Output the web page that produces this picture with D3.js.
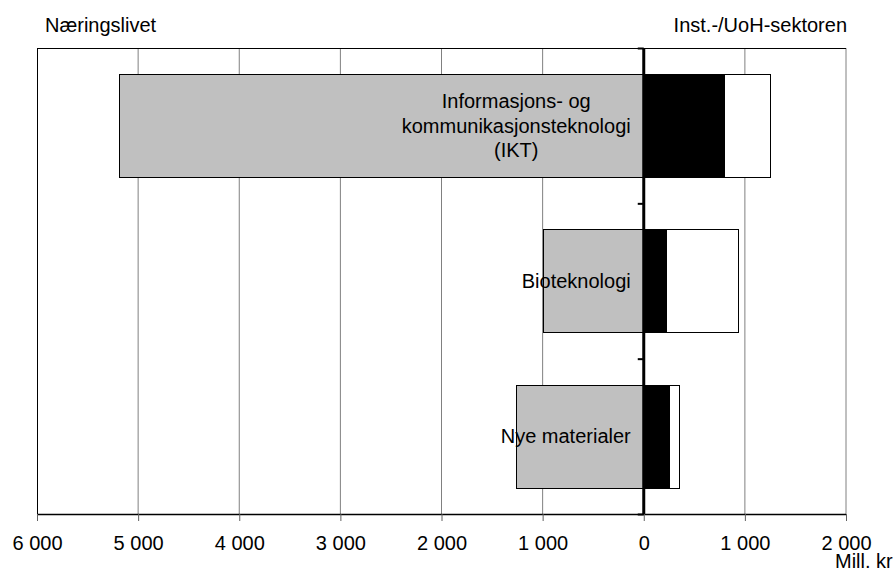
<!DOCTYPE html>
<html><head><meta charset="utf-8">
<script src="https://cdn.jsdelivr.net/npm/d3@7"></script>
<style>body{margin:0;background:#fff}svg{font-family:"Liberation Sans",Arial,sans-serif}</style>
</head><body><svg id="c" width="895" height="570"></svg>
<script>
const categories = ["Informasjons- og|kommunikasjonsteknologi|(IKT)", "Bioteknologi", "Nye materialer"];
const naeringslivet = [5190, 1000, 1260];
const instSektorBlack = [790, 221, 247];
const instSektorWhite = [460, 707, 105];
const xTicks = [-6000, -5000, -4000, -3000, -2000, -1000, 0, 1000, 2000];

const svg = d3.select("#c");
const L = 37, R = 846, T = 48, B = 514;
const x = d3.scaleLinear().domain([-6000, 2000]).range([L, R]);
const y = d3.scaleBand().domain(categories).range([T, B]).padding(0);
const barPad = 0.168;
const fmt = v => d3.format(",")(Math.abs(v)).replace(/,/g, " ");

// gridlines
svg.append("g").selectAll("line").data(xTicks.filter(d => d !== -6000 && d !== 0))
  .join("line").attr("x1", d => x(d)).attr("x2", d => x(d)).attr("y1", T).attr("y2", B)
  .attr("stroke", "#808080").attr("stroke-width", 1);
// frame top and left
svg.append("line").attr("x1", L).attr("x2", R).attr("y1", T + 0.5).attr("y2", T + 0.5).attr("stroke", "#000");
svg.append("line").attr("x1", L + 0.5).attr("x2", L + 0.5).attr("y1", T).attr("y2", B).attr("stroke", "#000");

// bars
const g = svg.append("g");
categories.forEach((c, i) => {
  const y0 = y(c) + y.step() * barPad, h = y.bandwidth() * (1 - 2 * barPad);
  const segs = [
    {a: -naeringslivet[i], b: 0, f: "#c0c0c0"},
    {a: 0, b: instSektorBlack[i], f: "#000"},
    {a: instSektorBlack[i], b: instSektorBlack[i] + instSektorWhite[i], f: "#fff"}
  ];
  segs.forEach(s => g.append("rect").attr("x", Math.round(x(s.a)) + 0.5).attr("y", Math.round(y0) + 0.5)
    .attr("width", Math.round(x(s.b)) - Math.round(x(s.a))).attr("height", Math.round(h))
    .attr("fill", s.f).attr("stroke", "#000").attr("stroke-width", 1));
});

// bottom axis
const ax = svg.append("g").attr("transform", `translate(0,${B})`)
  .call(d3.axisBottom(x).tickValues(xTicks).tickSize(7).tickPadding(15).tickFormat(fmt));
ax.select(".domain").attr("stroke", "#000").attr("stroke-width", 1.5).attr("d", `M${L},0.5H${R}`);
ax.selectAll(".tick line").attr("stroke", "#606060");
ax.selectAll("text").attr("font-size", 20).attr("fill", "#000").attr("font-family", "Liberation Sans, Arial, sans-serif");

// zero axis
const z = x(0);
const ay = svg.append("g").attr("transform", `translate(${z},0)`)
  .call(d3.axisLeft(y).tickValues([]).tickSize(0));
ay.select(".domain").attr("stroke", "#000").attr("stroke-width", 3).attr("d", `M0,${T}V${B}`);
[T, ...categories.slice(1).map(c => y(c)), B].forEach(v =>
  svg.append("line").attr("x1", z - 6).attr("x2", z).attr("y1", v + 0.5).attr("y2", v + 0.5).attr("stroke", "#000").attr("stroke-width", 2));

// category labels
categories.forEach((c, i) => {
  const lines = c.split("|");
  const cy = y(c) + y.bandwidth() / 2 + 7;
  const t = svg.append("text").attr("font-size", 20).attr("text-anchor", "middle").attr("fill", "#000");
  const lh = 24.5;
  lines.forEach((ln, k) => t.append("tspan").attr("x", 0).attr("y", cy + (k - (lines.length - 1) / 2) * lh).text(ln));
  const w = d3.max(t.selectAll("tspan").nodes(), n => n.getComputedTextLength());
  const right = z - 13;
  t.selectAll("tspan").attr("x", right - w / 2);
});

// headings
svg.append("text").attr("x", 45).attr("y", 32).attr("font-size", 20).text("Næringslivet");
svg.append("text").attr("x", 847).attr("y", 32).attr("font-size", 20).attr("text-anchor", "end").text("Inst.-/UoH-sektoren");
svg.append("text").attr("x", 835).attr("y", 568).attr("font-size", 20).text("Mill. kr");
</script></body></html>
